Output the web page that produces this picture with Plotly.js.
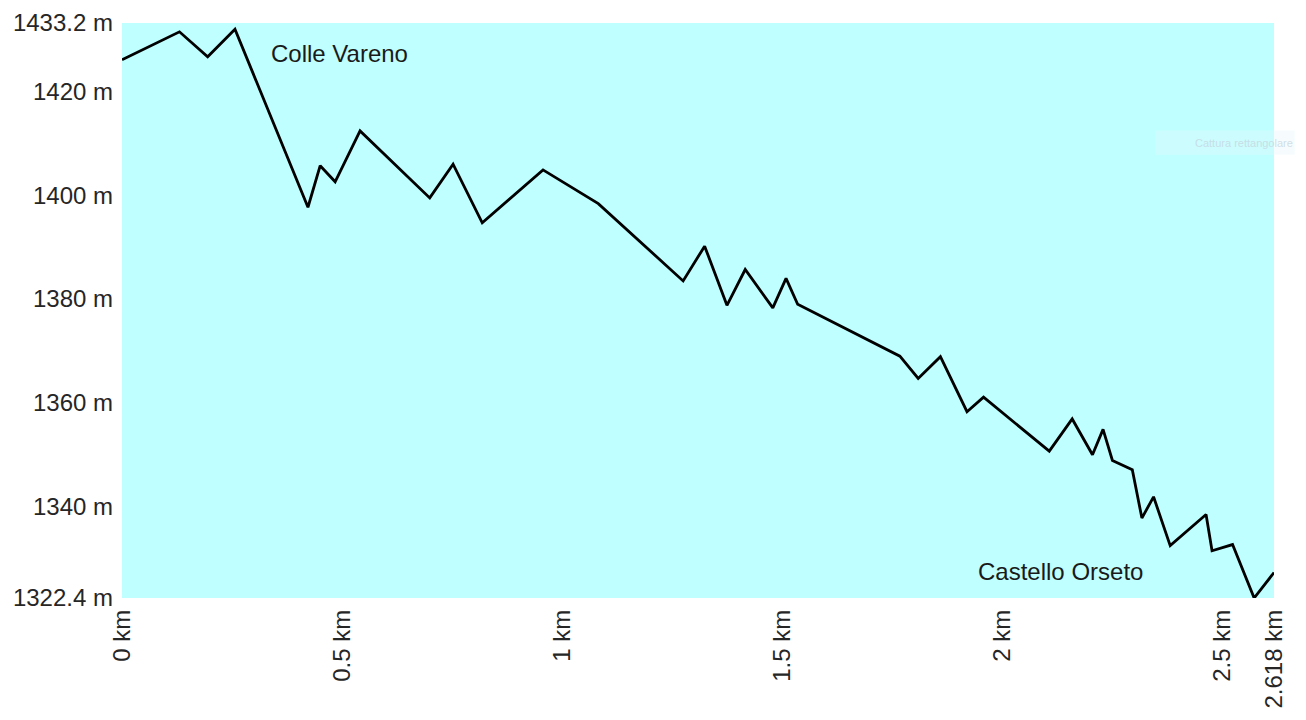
<!DOCTYPE html>
<html>
<head>
<meta charset="utf-8">
<script src="https://cdn.plot.ly/plotly-3.0.1.min.js"></script>
<style>html,body{margin:0;padding:0;background:#fff;}#chart{width:1306px;height:720px;}</style>
</head>
<body>
<div id="chart"></div>
<script>
// Distance along the route (km)
const distanceKm = [0, 0.1306, 0.1947, 0.2567, 0.4226, 0.4504, 0.4844, 0.5410, 0.6994, 0.7524,
  0.8187, 0.9568, 1.0824, 1.2752, 1.3241, 1.3748, 1.4163, 1.4790, 1.5091, 1.5355,
  1.7678, 1.8094, 1.8599, 1.9203, 1.9579, 2.1073, 2.1594, 2.2055, 2.2295, 2.2508,
  2.2960, 2.3178, 2.3443, 2.3821, 2.4636, 2.4772, 2.5238, 2.5729, 2.618];
// Elevation (m)
const elevationM = [1426.1, 1431.5, 1426.7, 1432.0, 1397.7, 1405.7, 1402.6, 1412.4, 1399.5, 1406.0,
  1394.7, 1404.9, 1398.4, 1383.5, 1390.2, 1378.8, 1385.7, 1378.3, 1384.0, 1379.0,
  1369.0, 1364.7, 1368.9, 1358.3, 1361.1, 1350.7, 1356.9, 1350.0, 1354.9, 1348.9,
  1347.1, 1337.8, 1341.9, 1332.5, 1338.5, 1331.5, 1332.7, 1322.4, 1327.3];

const xTickVals = [0, 0.5, 1, 1.5, 2, 2.5, 2.618];
const xTickText = ["0 km", "0.5 km", "1 km", "1.5 km", "2 km", "2.5 km", "2.618 km"];
const yTickVals = [1322.4, 1340, 1360, 1380, 1400, 1420, 1433.2];
const yTickText = ["1322.4 m", "1340 m", "1360 m", "1380 m", "1400 m", "1420 m", "1433.2 m"];

const placeNames = ["Colle Vareno", "Castello Orseto"];
const placeX = [0.334, 1.941];
const placeY = [1427.4, 1327.6];

const FONT = "Liberation Sans, Arial, sans-serif";

const trace = {
  x: distanceKm,
  y: elevationM,
  type: "scatter",
  mode: "lines",
  line: {color: "#000000", width: 2.8},
  hoverinfo: "skip",
  cliponaxis: false
};

const annotations = placeNames.map((t, i) => ({
  x: placeX[i], y: placeY[i], xref: "x", yref: "y",
  text: t, showarrow: false, xanchor: "left", yanchor: "middle",
  font: {family: FONT, size: 24, color: "#1a1a1a"}
}));
annotations.push({
  x: 1.018, y: 0.792, xref: "paper", yref: "paper",
  text: "Cattura rettangolare", showarrow: false, xanchor: "right", yanchor: "middle",
  font: {family: FONT, size: 11, color: "rgba(195,212,222,0.75)"}
});

const layout = {
  width: 1306,
  height: 720,
  margin: {l: 122, r: 32, t: 23, b: 122},
  paper_bgcolor: "#ffffff",
  plot_bgcolor: "#bfffff",
  showlegend: false,
  xaxis: {
    range: [0, 2.618],
    tickmode: "array",
    tickvals: xTickVals,
    ticktext: xTickText,
    tickangle: -90,
    showgrid: false,
    zeroline: false,
    showline: false,
    ticks: "",
    ticklabelstandoff: 6,
    tickfont: {family: FONT, size: 24, color: "#262626"},
    fixedrange: true
  },
  yaxis: {
    range: [1322.4, 1433.2],
    tickmode: "array",
    tickvals: yTickVals,
    ticktext: yTickText,
    showgrid: false,
    zeroline: false,
    showline: false,
    ticks: "",
    ticklabelstandoff: 8,
    tickfont: {family: FONT, size: 24, color: "#262626"},
    fixedrange: true
  },
  shapes: [{
    type: "rect", xref: "paper", yref: "paper",
    x0: 0.897, x1: 1.018, y0: 0.771, y1: 0.813,
    line: {width: 0}, fillcolor: "rgba(230,245,250,0.35)"
  }],
  annotations: annotations
};

Plotly.newPlot("chart", [trace], layout, {displayModeBar: false, staticPlot: true});
</script>
</body>
</html>
